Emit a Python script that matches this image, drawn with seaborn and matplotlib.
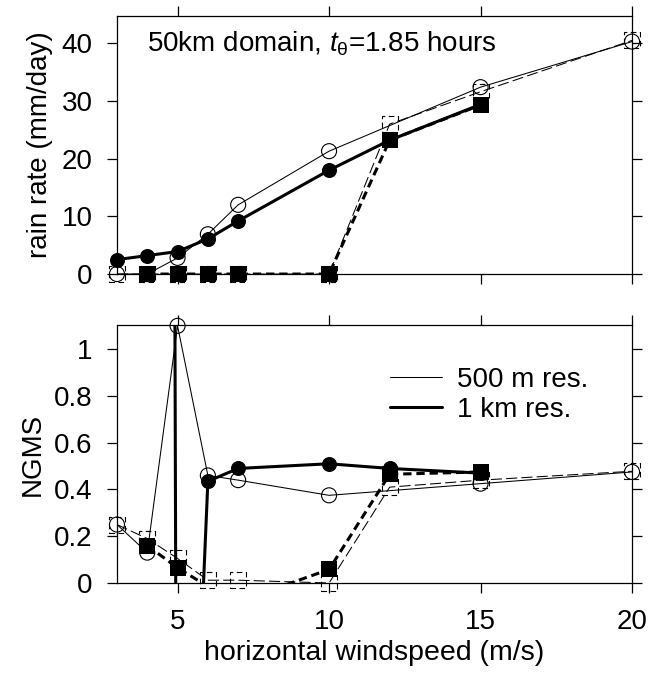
import numpy as np
import pandas as pd
import matplotlib
matplotlib.use("Agg")
import matplotlib.pyplot as plt
import seaborn as sns
from matplotlib.lines import Line2D

# windspeeds (m/s) for each series
wind_c500 = [3, 4, 5, 6, 7, 10, 15, 20]
wind_c1k = [3, 4, 5, 6, 7, 10, 12, 15]
wind_s500 = [3, 4, 5, 6, 7, 10, 12, 15, 20]
wind_s1k = [4, 5, 6, 7, 10, 12, 15]

# rain rate (mm/day)
rain_c500 = [0.0, 0.0, 2.8, 6.9, 12.0, 21.3, 32.4, 40.3]
rain_c1k = [2.5, 3.2, 3.9, 6.1, 9.2, 18.0, 23.2, 29.4]
rain_s500 = [0.0, 0.0, 0.0, 0.0, 0.0, 0.0, 26.0, 31.6, 40.5]
rain_s1k = [0.0, 0.0, 0.0, 0.0, 0.0, 23.2, 29.3]

# NGMS (some 1 km values run off the plotted range)
ngms_c500 = [0.25, 0.13, 1.10, 0.46, 0.44, 0.375, 0.425, 0.475]
ngms_c1k = [30.0, 40.0, -2.6, 0.435, 0.49, 0.51, 0.49, 0.47]
ngms_s500 = [0.25, 0.19, 0.105, 0.012, 0.012, 0.0, 0.41, 0.44, 0.478]
ngms_s1k = [0.16, 0.065, -0.015, -0.08, 0.058, 0.465, 0.475]

legend_labels = ["500 m res.", "1 km res."]

sns.set_style("ticks", rc={"axes.edgecolor": "black", "xtick.color": "black",
                           "ytick.color": "black", "text.color": "black",
                           "axes.labelcolor": "black"})
plt.rcParams['font.family'] = ['Liberation Sans', 'DejaVu Sans']
plt.rcParams['mathtext.fontset'] = 'custom'
plt.rcParams['mathtext.rm'] = 'Liberation Sans'
plt.rcParams['mathtext.it'] = 'Liberation Sans:italic'
plt.rcParams['lines.scale_dashes'] = False

FS = 20
THIN, THICK = 0.75, 2.2
DASH_THIN = (0, (8, 3))
DASH_THICK = (0, (6, 3.5))


def draw_series(ax, x, y, ymax, lw, dashed, marker, filled):
    df = pd.DataFrame({"x": x, "y": y})
    if dashed:
        ls = DASH_THIN if lw == THIN else DASH_THICK
    else:
        ls = "-"
    sns.lineplot(data=df, x="x", y="y", ax=ax, color="black", lw=lw,
                 linestyle=ls, sort=False, estimator=None, zorder=2)
    # markers only for points inside the plotted range, not clipped at the frame
    inside = df[(df["y"] >= 0) & (df["y"] <= ymax)]
    size = 132 if marker == "s" else 117
    if filled:
        sns.scatterplot(data=inside, x="x", y="y", ax=ax, marker=marker, s=size,
                        color="black", edgecolor="black", linewidth=0,
                        clip_on=False, zorder=3)
    else:
        sns.scatterplot(data=inside, x="x", y="y", ax=ax, marker=marker, s=size,
                        facecolor="none", edgecolor="black", linewidth=0.8,
                        linestyle=(0, (4, 2.5)) if dashed else "-",
                        clip_on=False, zorder=4)


fig = plt.figure(figsize=(6.52, 6.75), dpi=100)
ax1 = fig.add_axes([0.1794, 0.594, 0.790, 0.382])
ax2 = fig.add_axes([0.1794, 0.1363, 0.790, 0.382])

top_max, bot_max = 44.7, 1.103

# rain rate panel
draw_series(ax1, wind_c500, rain_c500, top_max, THIN, False, "o", False)
draw_series(ax1, wind_s500, rain_s500, top_max, THIN, True, "s", False)
draw_series(ax1, wind_c1k, rain_c1k, top_max, THICK, False, "o", True)
draw_series(ax1, wind_s1k, rain_s1k, top_max, THICK, True, "s", True)
ax1.text(0.058, 0.895, "50km domain, $t_{\\mathrm{\\theta}}$=1.85 hours",
         transform=ax1.transAxes, ha="left", va="center", fontsize=FS)

# NGMS panel
draw_series(ax2, wind_c500, ngms_c500, bot_max, THIN, False, "o", False)
draw_series(ax2, wind_s500, ngms_s500, bot_max, THIN, True, "s", False)
draw_series(ax2, wind_c1k, ngms_c1k, bot_max, THICK, False, "o", True)
draw_series(ax2, wind_s1k, ngms_s1k, bot_max, THICK, True, "s", True)

for ax in (ax1, ax2):
    ax.set_xlim(3, 20)
    ax.set_xticks([5, 10, 15, 20])
    ax.tick_params(direction="out", length=7.5, width=0.9, top=True, right=True,
                   labeltop=False, labelright=False, pad=10, labelsize=FS)
    for sp in ax.spines.values():
        sp.set_linewidth(0.9)
        sp.set_zorder(1)

ax1.set_ylim(0, top_max)
ax1.set_yticks([0, 10, 20, 30, 40])
ax1.tick_params(labelbottom=False)
ax1.set_xlabel("")
ax1.set_ylabel("rain rate (mm/day)", fontsize=FS, labelpad=6)

ax2.set_ylim(0, bot_max)
ax2.set_yticks([0, 0.2, 0.4, 0.6, 0.8, 1.0])
ax2.set_yticklabels(["0", "0.2", "0.4", "0.6", "0.8", "1"])
ax2.set_xticks([5, 10, 15, 20])
ax2.set_xticklabels(["5", "10", "15", "20"])
ax2.tick_params(axis="x", pad=11)
ax2.set_xlabel("horizontal windspeed (m/s)", fontsize=20.5, labelpad=4)
ax2.set_ylabel("NGMS", fontsize=FS, labelpad=6)

handles = [Line2D([], [], color="black", lw=THIN), Line2D([], [], color="black", lw=THICK)]
ax2.legend(handles, legend_labels, loc="upper left", bbox_to_anchor=(0.53, 0.838),
           frameon=False, fontsize=FS, borderpad=0, borderaxespad=0,
           handlelength=1.87, handletextpad=0.55, labelspacing=0.15)

fig.savefig("out.png", dpi=100)
